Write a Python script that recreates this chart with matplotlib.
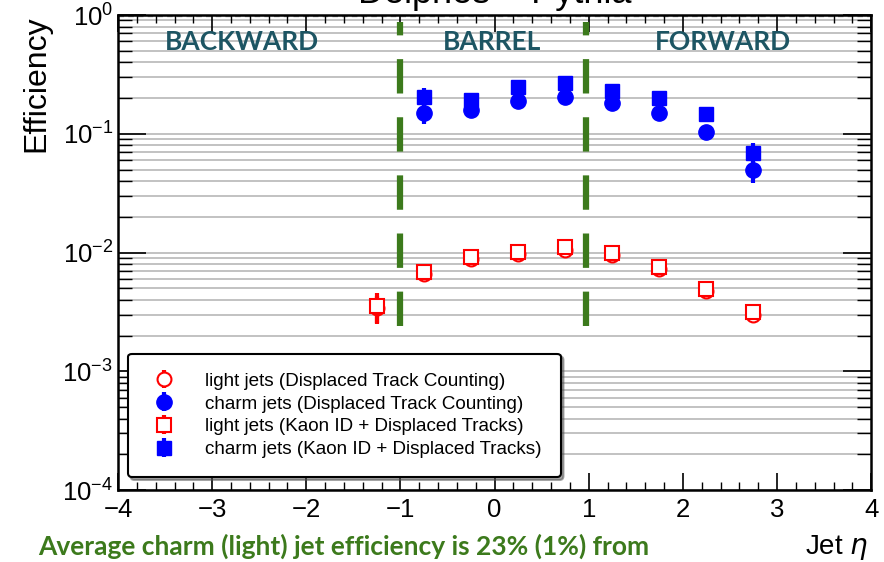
import matplotlib
matplotlib.use("Agg")
import matplotlib.pyplot as plt
from matplotlib.ticker import LogLocator, MultipleLocator, NullFormatter

plt.rcParams["font.family"] = ["Liberation Sans", "DejaVu Sans"]

# jet pseudorapidity bins
eta_light = [-1.25, -0.75, -0.25, 0.25, 0.75, 1.25, 1.75, 2.25, 2.75]
eta_charm = [-0.75, -0.25, 0.25, 0.75, 1.25, 1.75, 2.25, 2.75]

# displaced track counting
light_dtc = [0.0034, 0.0066, 0.0088, 0.0097, 0.0106, 0.0095, 0.0072, 0.0047, 0.0030]
light_dtc_err = [0.0009, 0.0004, 0.0004, 0.0004, 0.0005, 0.0005, 0.0004, 0.0003, 0.0002]
charm_dtc = [0.150, 0.158, 0.189, 0.204, 0.180, 0.150, 0.103, 0.0495]
charm_dtc_err = [0.030, 0.012, 0.010, 0.012, 0.010, 0.012, 0.006, 0.011]

# kaon ID + displaced tracks
light_kid = [0.00355, 0.00685, 0.00916, 0.0101, 0.0111, 0.0099, 0.00755, 0.00493, 0.00316]
light_kid_err = [0.0010, 0.0003, 0.0003, 0.0003, 0.0004, 0.0004, 0.0003, 0.0002, 0.0002]
charm_kid = [0.204, 0.192, 0.248, 0.267, 0.229, 0.200, 0.147, 0.069]
charm_kid_err = [0.040, 0.012, 0.012, 0.020, 0.012, 0.012, 0.008, 0.014]

region_names = ["BACKWARD", "BARREL", "FORWARD"]
region_centres = [-2.68, -0.03, 2.43]
region_edges = [-1.0, 0.97]

fig = plt.figure(figsize=(8.84, 5.62), dpi=100)
ax = fig.add_axes([0.1335, 0.1281, 0.852, 0.8452])

ax.set_xlim(-4, 4)
ax.set_yscale("log")
ax.set_ylim(1e-4, 1)

# horizontal grid at every log tick
for dec in [1e-4, 1e-3, 1e-2, 1e-1]:
    for m in range(1, 10):
        ax.axhline(dec * m, color="#bdbdbd", lw=1.3, zorder=0)
ax.axhline(0.985, color="#9a9a9a", lw=1.0, ls=(0, (4, 3)), zorder=0)

for xe in region_edges:
    ax.plot([xe, xe], [0.0024, 0.87], color="#3c7a1c", lw=4.5,
            ls=(0, (5.5, 3.8)), zorder=2)

for name, xc in zip(region_names, region_centres):
    ax.text(xc, 0.59, name, ha="center", va="center", fontsize=19,
            fontweight="bold", color="#1d5563", family=["Lato", "DejaVu Sans"])

e1 = ax.errorbar(eta_light, light_dtc, yerr=light_dtc_err, fmt="o", ms=10,
                 mfc="white", mec="red", mew=1.5, color="red", elinewidth=3,
                 capsize=0, zorder=3, label="light jets (Displaced Track Counting)")
e2 = ax.errorbar(eta_charm, charm_dtc, yerr=charm_dtc_err, fmt="o", ms=11,
                 color="blue", elinewidth=3, capsize=0, zorder=4,
                 label="charm jets (Displaced Track Counting)")
e3 = ax.errorbar(eta_light, light_kid, yerr=light_kid_err, fmt="s", ms=10,
                 mfc="white", mec="red", mew=1.5, color="red", elinewidth=3,
                 capsize=0, zorder=5, label="light jets (Kaon ID + Displaced Tracks)")
e4 = ax.errorbar(eta_charm, charm_kid, yerr=charm_kid_err, fmt="s", ms=10,
                 color="blue", elinewidth=3, capsize=0, zorder=6,
                 label="charm jets (Kaon ID + Displaced Tracks)")

leg = ax.legend(handles=[e1, e2, e3, e4], loc="lower left",
                bbox_to_anchor=(0.013, 0.027), fontsize=13.6, frameon=True,
                fancybox=True, shadow=True, borderpad=1.0, labelspacing=0.3,
                handletextpad=1.3, handlelength=1.8, borderaxespad=0)
leg.get_frame().set_edgecolor("black")
leg.get_frame().set_linewidth(1.5)
leg.get_frame().set_alpha(1)

ax.xaxis.set_major_locator(MultipleLocator(1))
ax.xaxis.set_minor_locator(MultipleLocator(0.2))
ax.yaxis.set_major_locator(LogLocator(base=10, numticks=10))
ax.yaxis.set_minor_locator(LogLocator(base=10, subs=range(2, 10), numticks=20))
ax.yaxis.set_minor_formatter(NullFormatter())
ax.tick_params(which="both", direction="in", top=True, right=True, labelsize=18.5)
ax.tick_params(which="major", length=20, width=1.2)
ax.tick_params(which="minor", length=10, width=1.0)
ax.tick_params(axis="x", which="major", length=12, pad=6)
ax.tick_params(axis="x", which="minor", length=6)
for s in ax.spines.values():
    s.set_linewidth(1.8)

ax.set_ylabel("Efficiency", fontsize=23, loc="top", labelpad=8)
fig.text(0.982, 0.025, "Jet $\\eta$", ha="right", va="center", fontsize=20)
fig.text(0.56, 1.012, "Delphes + Pythia", ha="center", va="center", fontsize=26)
fig.text(0.043, 0.027, "Average charm (light) jet efficiency is 23% (1%) from",
         ha="left", va="center", fontsize=19, fontweight="bold",
         color="#3c7a1c", family=["Lato", "DejaVu Sans"])

fig.savefig("out.png", dpi=100)
